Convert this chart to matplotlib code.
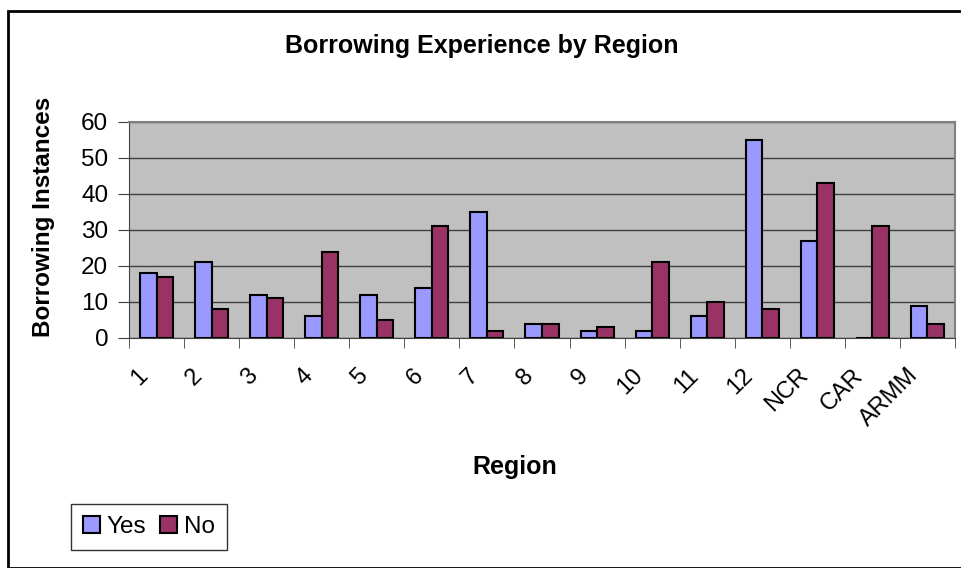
import matplotlib.pyplot as plt
import matplotlib.transforms as mtransforms
import numpy as np
from matplotlib.patches import Rectangle

regions = ['1', '2', '3', '4', '5', '6', '7', '8', '9', '10', '11', '12', 'NCR', 'CAR', 'ARMM']
yes = [18, 21, 12, 6, 12, 14, 35, 4, 2, 2, 6, 55, 27, 0, 9]
no = [17, 8, 11, 24, 5, 31, 2, 4, 3, 21, 10, 8, 43, 31, 4]

plt.rcParams['font.family'] = ['Liberation Sans', 'DejaVu Sans']

W, H = 962, 568
fig = plt.figure(figsize=(W / 100, H / 100), dpi=100)

# outer chart border (clipped at right/bottom like the original)
fig.patches.append(Rectangle((8 / W, 0), 1, 1 - 11 / H, transform=fig.transFigure,
                             fill=False, edgecolor='black', linewidth=2))

ax = fig.add_axes([129 / W, 1 - 338 / H, (955 - 129) / W, (338 - 122) / H])
ax.set_facecolor('#C0C0C0')

x = np.arange(len(regions))
bw = 0.3
ax.bar(x - bw / 2, yes, bw, color='#9999FF', edgecolor='black', linewidth=1.5, label='Yes', zorder=3)
ax.bar(x + bw / 2, no, bw, color='#993366', edgecolor='black', linewidth=1.5, label='No', zorder=3)

ax.set_xlim(-0.5, len(regions) - 0.5)
ax.set_ylim(0, 60)
ax.set_yticks(range(0, 61, 10))
ax.yaxis.grid(True, color='#404040', linewidth=1, zorder=1)
ax.set_axisbelow(True)

ax.set_xticks(x)
ax.set_xticklabels(regions, rotation=45, ha='right', rotation_mode='anchor', fontsize=17)
ax.tick_params(axis='x', length=0, pad=19)
# shift the rotated labels a bit to the left, like Excel places them
shift = mtransforms.ScaledTranslation(-20 / 100, 0, fig.dpi_scale_trans)
for lbl in ax.get_xticklabels():
    lbl.set_transform(lbl.get_transform() + shift)
ax.set_xticks(np.arange(-0.5, len(regions)), minor=True)
ax.tick_params(axis='x', which='minor', length=7, direction='out', color='#404040')
ax.tick_params(axis='y', labelsize=17.5, length=8, direction='out', color='#404040', pad=7)

for side in ['top', 'right']:
    ax.spines[side].set_color('#808080')
    ax.spines[side].set_linewidth(1.5)
ax.spines['left'].set_color('#404040')
ax.spines['bottom'].set_color('#404040')

fig.text(44 / W, 1 - 217 / H, 'Borrowing Instances', fontsize=17.5, fontweight='bold',
         rotation=90, ha='center', va='center')
fig.text(515 / W, 1 - 467 / H, 'Region', fontsize=18, fontweight='bold', ha='center', va='center')
fig.text(482 / W, 1 - 46 / H, 'Borrowing Experience by Region', fontsize=18,
         fontweight='bold', ha='center', va='center')

leg = fig.legend(loc='lower left', bbox_to_anchor=(71 / W, 1 - 550 / H), ncol=2, fontsize=17.5,
                 frameon=True, fancybox=False, edgecolor='black', handlelength=0.7, handleheight=0.7,
                 handletextpad=0.25, columnspacing=0.6, borderpad=0.5, borderaxespad=0)
leg.get_frame().set_linewidth(1)

plt.savefig('out.png', dpi=100)
